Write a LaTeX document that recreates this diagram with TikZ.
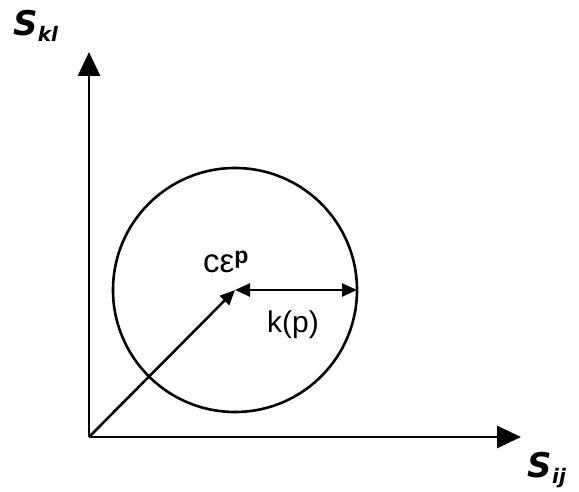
\documentclass[tikz,border=0pt]{standalone}
\usepackage{fontspec}
\setmainfont{Liberation Sans}
\newfontfamily\axisfont{DejaVu Sans}
\usetikzlibrary{arrows.meta,positioning}

\begin{document}
\begin{tikzpicture}[
  x=1pt,y=-1pt,
  axis/.style={-{Triangle[length=24pt,width=22pt]},line width=2.8pt},
  vec/.style={-{Triangle[length=15pt,width=13pt]},line width=2.6pt},
  rad/.style={{Triangle[length=15pt,width=13pt]}-{Triangle[length=15pt,width=13pt]},line width=2.6pt},
  lab/.style={font=\axisfont\fontsize{34}{38}\selectfont\bfseries\itshape,inner sep=0pt},
  txt/.style={font=\fontsize{30}{34}\selectfont,inner sep=0pt}
]
\useasboundingbox (0,0) rectangle (579,492);
\coordinate (o) at (89,437);
\coordinate (ytip) at (89,52);
\coordinate (xtip) at (521,437);
\coordinate (c) at (235,290);
\coordinate (r) at (357,290);

\draw[line width=2.6pt] (c) circle (122);
\draw[axis] (o) -- (ytip);
\draw[axis] (o) -- (xtip);
\draw[vec] (o) -- (c);
\draw[rad] (c) -- (r);

\node[lab] (skl) at (36,26) {S\textsubscript{\fontsize{20}{22}\selectfont kl}};
\node[lab] (sij) at (547,470) {S\textsubscript{\fontsize{20}{22}\selectfont ij}};
\node[txt,font=\fontsize{33}{36}\selectfont] (ce) at (226,262) {cε\textsuperscript{\bfseries p}};
\node[txt] (kp) at (293,325) {k(p)};
\end{tikzpicture}
\end{document}
